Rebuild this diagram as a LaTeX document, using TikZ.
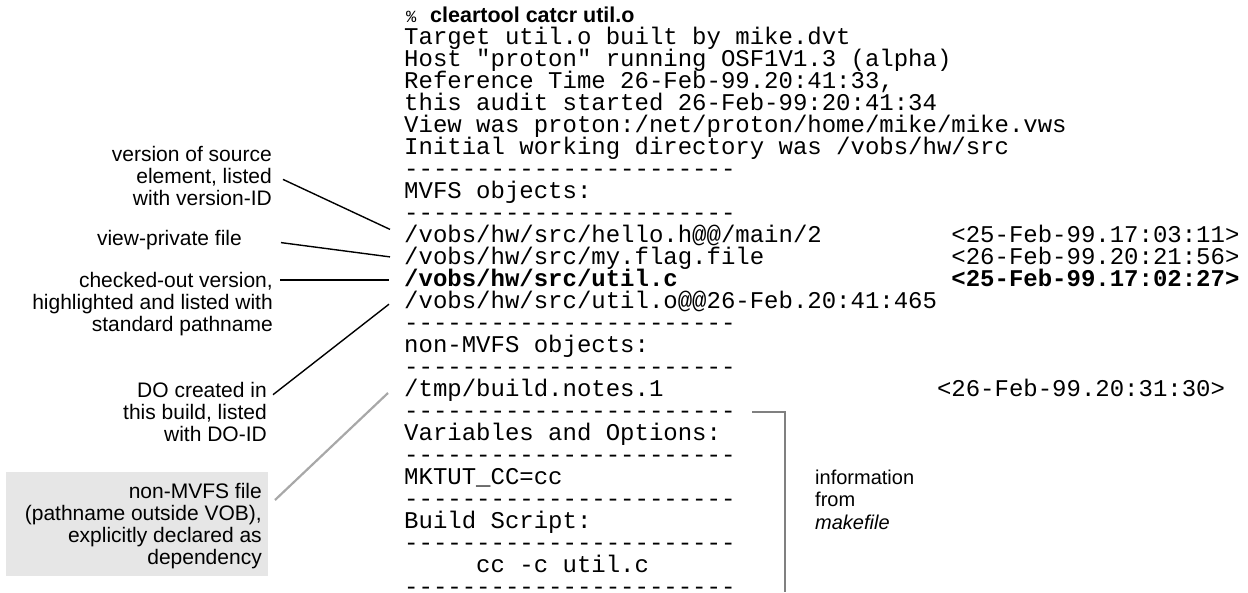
\documentclass[tikz,border=0pt]{standalone}
\usepackage{fontspec}
\setmainfont{Liberation Sans}
\setmonofont{Liberation Mono}
\definecolor{boxgray}{HTML}{E6E6E6}
\definecolor{linegray}{HTML}{A8A8A8}
\definecolor{brackgray}{HTML}{808080}
\begin{document}
\begin{tikzpicture}[x=1pt,y=-1pt,
  mono/.style={anchor=base west,inner sep=0pt,font=\ttfamily\fontsize{24}{22}\selectfont},
  monob/.style={mono,font=\ttfamily\bfseries\fontsize{24}{22}\selectfont},
  lbl/.style={anchor=base east,inner sep=0pt,align=right,font=\fontsize{21}{22}\selectfont},
  info/.style={anchor=base west,inner sep=0pt,align=left,font=\fontsize{20}{22.5}\selectfont},
  conn/.style={line width=1.4pt},
  gconn/.style={line width=2.2pt,color=linegray},
  brack/.style={line width=2.6pt,color=brackgray},
]
\useasboundingbox (0,0) rectangle (1248,592);

% command line
\node[mono,font=\ttfamily\fontsize{17}{17}\selectfont] (pct) at (406,22) {\%};
\node[anchor=base west,inner sep=0pt,font=\bfseries\fontsize{21.5}{21.5}\selectfont] (cmd) at (430,22) {cleartool catcr util.o};

\node[mono] (r1) at (404,44) {Target util.o built by mike.dvt};
\node[mono] (r2) at (404,66) {Host "proton" running OSF1V1.3 (alpha)};
\node[mono] (r3) at (404,88) {Reference Time 26-Feb-99.20:41:33,};
\node[mono] (r4) at (404,110) {this audit started 26-Feb-99:20:41:34};
\node[mono] (r5) at (404,132) {View was proton:/net/proton/home/mike/mike.vws};
\node[mono] (r6) at (404,154) {Initial working directory was /vobs/hw/src};
\node[mono] (r7) at (404,176) {-----------------------};
\node[mono] (r8) at (404,198) {MVFS objects:};
\node[mono] (r9) at (404,220) {-----------------------};
\node[mono] (r10) at (404,242) {/vobs/hw/src/hello.h@@/main/2};
\node[mono] (t10) at (951.2,242) {<25-Feb-99.17:03:11>};
\node[mono] (r11) at (404,264) {/vobs/hw/src/my.flag.file};
\node[mono] (t11) at (951.2,264) {<26-Feb-99.20:21:56>};
\node[monob] (r12) at (404,286) {/vobs/hw/src/util.c};
\node[monob] (t12) at (951.2,286) {<25-Feb-99.17:02:27>};
\node[mono] (r13) at (404,308) {/vobs/hw/src/util.o@@26-Feb.20:41:465};
\node[mono] (r14) at (404,330) {-----------------------};
\node[mono] (r15) at (404,352) {non-MVFS objects:};
\node[mono] (r16) at (404,374) {-----------------------};
\node[mono] (r17) at (404,396) {/tmp/build.notes.1};
\node[mono] (t17) at (936.8,396) {<26-Feb-99.20:31:30>};
\node[mono] (r18) at (404,418) {-----------------------};
\node[mono] (r19) at (404,440) {Variables and Options:};
\node[mono] (r20) at (404,462) {-----------------------};
\node[mono] (r21) at (404,484) {MKTUT\_CC=cc};
\node[mono] (r22) at (404,506) {-----------------------};
\node[mono] (r23) at (404,528) {Build Script:};
\node[mono] (r24) at (404,550) {-----------------------};
\node[mono] (r25) at (476,572) {cc -c util.c};
\node[mono] (r26) at (404,594) {-----------------------};

% labels (base = baseline of last line)
\node[lbl] (lsrc) at (272,205.6) {version of source\\element, listed\\with version-ID};
\node[lbl] (lvp) at (242,245.2) {view-private file};
\node[lbl] (lco) at (273,331) {checked-out version,\\highlighted and listed with\\standard pathname};
\node[lbl] (ldo) at (267,441) {DO created in\\this build, listed\\with DO-ID};
\node[anchor=north west,inner sep=0pt,fill=boxgray,minimum width=262pt,minimum height=104pt] (gbox) at (6,472) {};
\node[lbl] (lnm) at (262,564.2) {non-MVFS file\\(pathname outside VOB),\\explicitly declared as\\dependency};
\node[info] (linfo) at (815,529) {information\\from\\\textit{makefile}};

% connector end points
\coordinate (c1a) at (283,179.4);  \coordinate (c1b) at (390,229.4);
\coordinate (c2a) at (281,242.6);  \coordinate (c2b) at (390,256.9);
\coordinate (c3a) at (280,280);    \coordinate (c3b) at (389,280);
\coordinate (c4a) at (273,394.7);  \coordinate (c4b) at (389,304.2);
\coordinate (c5a) at (275,500);    \coordinate (c5b) at (388,393);
\coordinate (b1) at (752,412);     \coordinate (b2) at (785,412);
\coordinate (b3) at (785,592);

\draw[conn] (c1a) -- (c1b);
\draw[conn] (c2a) -- (c2b);
\draw[conn] (c3a) -- (c3b);
\draw[conn] (c4a) -- (c4b);
\draw[gconn] (c5a) -- (c5b);
\draw[brack] (b1) -- (b2) -- (b3);
\end{tikzpicture}
\end{document}
